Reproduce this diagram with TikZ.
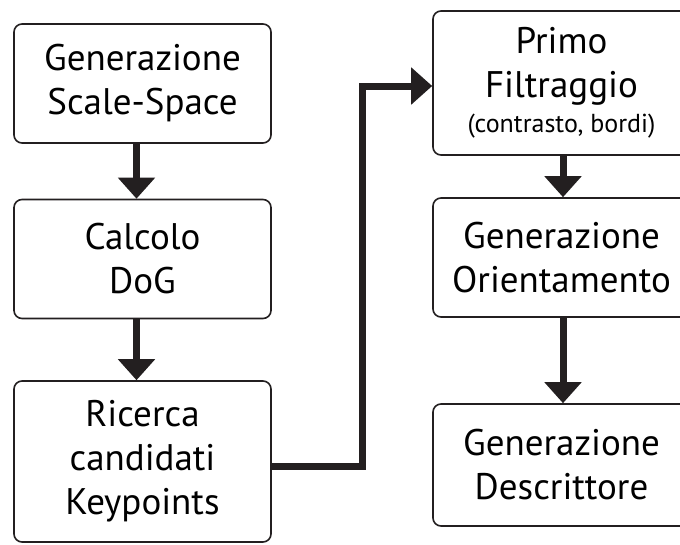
\documentclass[tikz,border=0pt]{standalone}
\usepackage{fontspec}
\setmainfont{PT Sans}
\usetikzlibrary{arrows.meta}
\definecolor{boxline}{HTML}{231F20}

\tikzset{
  stepbox/.style={draw=boxline, line width=1.6pt, rounded corners=8pt, fill=white,
    align=center, inner sep=0pt, minimum width=257pt, minimum height=119pt,
    font=\fontsize{37}{44}\selectfont},
  flow/.style={draw=boxline, line width=7pt,
    -{Triangle[width=36pt,length=21pt]}}
}

\begin{document}
\begin{tikzpicture}[x=1pt,y=-1pt]
  \clip (0,0) rectangle (680,544);
  \fill[white] (0,0) rectangle (680,544);

  % colonna sinistra
  \node[stepbox] (scalespace) at (142.5,83.5) {Generazione\\Scale-Space};
  \node[stepbox] (dog) at (142.5,259) {Calcolo\\DoG};
  \node[stepbox, minimum height=161pt] (candidati) at (142.5,461.5) {Ricerca\\candidati\\Keypoints};

  % colonna destra
  \node[stepbox, minimum height=144pt] (filtro) at (561.5,83) {Primo\\Filtraggio\\[-9pt]{\fontsize{26}{30}\selectfont (contrasto, bordi)}};
  \node[stepbox] (orient) at (561.5,257.5) {Generazione\\Orientamento};
  \node[stepbox, minimum height=122pt] (descr) at (561.5,465) {Generazione\\Descrittore};

  \coordinate (giro) at (362,466);

  \draw[flow] ([xshift=-6pt]scalespace.south) -- ([xshift=-6pt]dog.north);
  \draw[flow] ([xshift=-6pt]dog.south) -- ([xshift=-6pt]candidati.north);
  \draw[flow, rounded corners=0pt] (candidati.east |- giro) -| (giro |- 0,86) -- (filtro.west |- 0,86);
  \draw[flow] ([xshift=1.5pt]filtro.south) -- ([xshift=1.5pt]orient.north);
  \draw[flow] ([xshift=1.5pt]orient.south) -- ([xshift=1.5pt]descr.north);
\end{tikzpicture}
\end{document}
